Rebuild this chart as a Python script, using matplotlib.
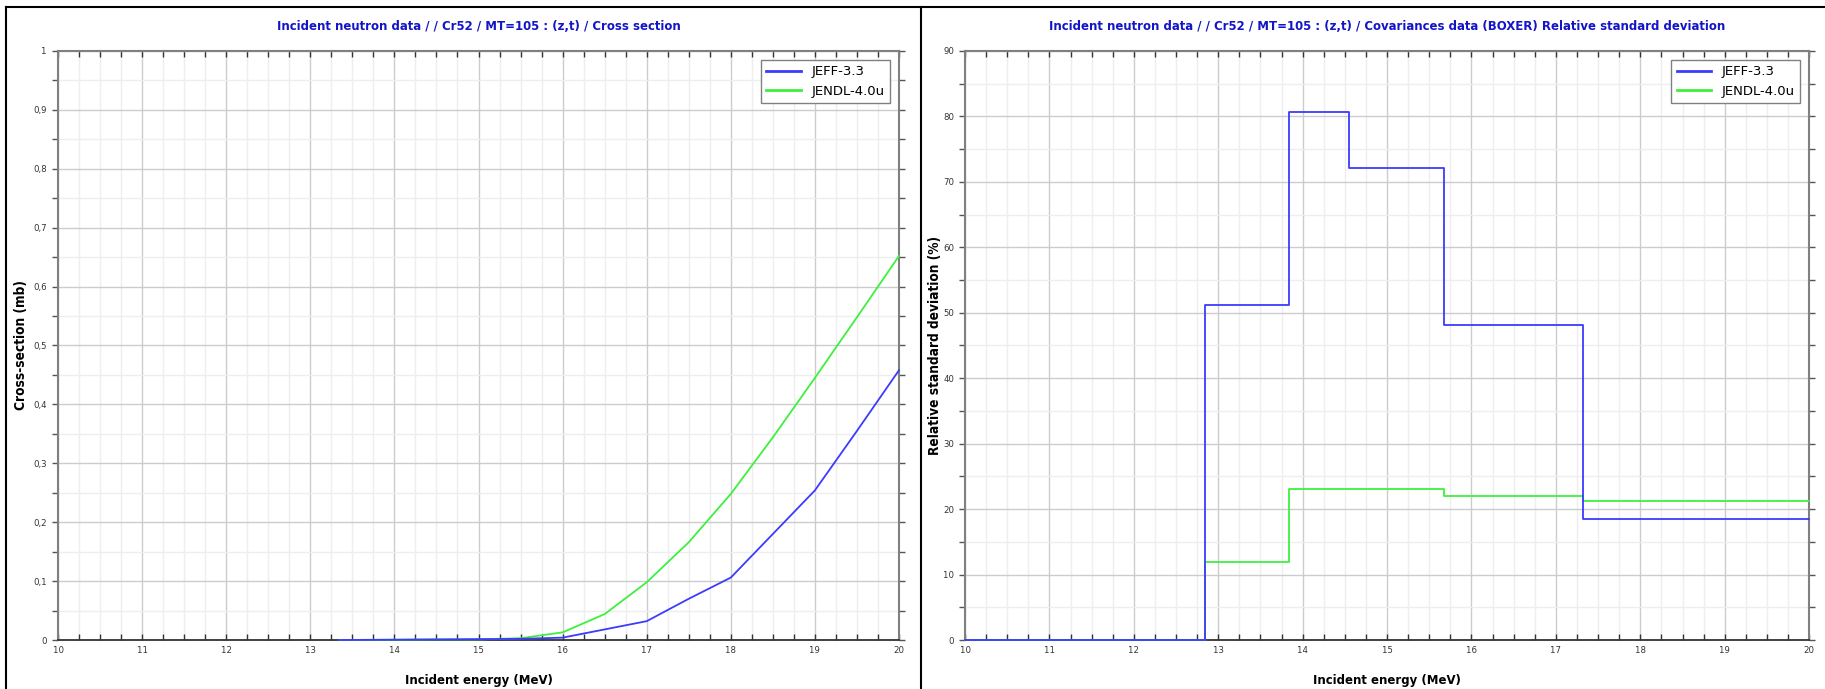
import matplotlib
matplotlib.use("Agg")
import matplotlib.pyplot as plt
from matplotlib import font_manager
from matplotlib.lines import Line2D
from matplotlib.ticker import MultipleLocator, FuncFormatter

# cross section (mb) vs energy (MeV)
e_xs = [13.34, 14.0, 14.5, 15.0, 15.5, 16.0, 16.5, 17.0, 17.5, 18.0, 18.5, 19.0, 19.5, 20.0]
xs_jeff = [0.0, 0.0005, 0.001, 0.0015, 0.002, 0.004, 0.018, 0.032, 0.070, 0.106, 0.180, 0.254, 0.355, 0.458]
xs_jendl = [0.0, 0.0005, 0.001, 0.001, 0.003, 0.013, 0.044, 0.098, 0.166, 0.248, 0.344, 0.445, 0.548, 0.652]

# relative standard deviation (%) - step functions
e_jeff = [10.0, 12.84, 13.84, 14.55, 15.68, 17.32, 20.0]
rsd_jeff = [0.0, 51.2, 80.7, 72.1, 48.2, 18.5, 18.5]
e_jendl = [10.0, 12.84, 13.84, 15.68, 17.32, 20.0]
rsd_jendl = [0.0, 11.9, 23.0, 22.0, 21.3, 21.3]

labels = ["JEFF-3.3", "JENDL-4.0u"]
titles = ["Incident neutron data / / Cr52 / MT=105 : (z,t) / Cross section",
          "Incident neutron data / / Cr52 / MT=105 : (z,t) / Covariances data (BOXER) Relative standard deviation"]
ylabels = ["Cross-section (mb)", "Relative standard deviation (%)"]

blue = "#3b3bff"
green = "#3ef03e"

# pick a narrow font if one is there
fonts = font_manager.fontManager.ttflist
names = {f.name for f in fonts}
stretch = "normal"
if "Liberation Sans Narrow" in names:
    narrow = "Liberation Sans Narrow"
    scale = 1.0
elif any(f.name == "DejaVu Sans" and f.stretch == "condensed" for f in fonts):
    narrow = "DejaVu Sans"
    stretch = "condensed"
    scale = 0.85
else:
    narrow = "Liberation Sans"
    scale = 0.78


def nfont(size, weight="normal"):
    return dict(family=narrow, stretch=stretch, size=size * scale, weight=weight)


fig = plt.figure(figsize=(18.25, 6.89), dpi=100)
ax1 = fig.add_axes([0.0318, 0.0711, 0.4608, 0.8549])
ax2 = fig.add_axes([0.5288, 0.0711, 0.4625, 0.8549])

ax1.plot(e_xs, xs_jeff, color=blue, lw=1.3, label=labels[0], zorder=4, clip_on=False)
ax1.plot(e_xs, xs_jendl, color=green, lw=1.3, label=labels[1], zorder=3, clip_on=False)
ax2.step(e_jeff, rsd_jeff, where="post", color=blue, lw=1.3, label=labels[0], zorder=4, clip_on=False)
ax2.step(e_jendl, rsd_jendl, where="post", color=green, lw=1.3, label=labels[1], zorder=3, clip_on=False)

ax1.set_ylim(0, 1)
ax1.yaxis.set_major_locator(MultipleLocator(0.1))
ax1.yaxis.set_minor_locator(MultipleLocator(0.05))
ax1.yaxis.set_major_formatter(FuncFormatter(lambda v, p: ("%g" % round(v, 2)).replace(".", ",")))
ax2.set_ylim(0, 90)
ax2.yaxis.set_major_locator(MultipleLocator(10))
ax2.yaxis.set_minor_locator(MultipleLocator(5))

ylab_x = [-0.044, -0.0355]
for i, ax in enumerate([ax1, ax2]):
    ax.set_xlim(10, 20)
    ax.xaxis.set_major_locator(MultipleLocator(1))
    ax.xaxis.set_minor_locator(MultipleLocator(0.25))
    ax.grid(which="major", color="#cccccc", lw=1.0)
    ax.grid(which="minor", color="#eeeeee", lw=1.0)
    ax.set_axisbelow(True)
    for s in ["left", "right", "top"]:
        ax.spines[s].set_color("#808080")
        ax.spines[s].set_linewidth(1.5)
    ax.spines["bottom"].set_color("#333333")
    ax.spines["bottom"].set_linewidth(1.3)
    ax.tick_params(axis="x", which="both", direction="in", top=True, length=4, width=1, color="#333333")
    ax.tick_params(axis="y", which="both", direction="out", right=True, length=4, width=1, color="#555555")
    ax.tick_params(which="both", labelcolor="#333333", pad=4)
    for t in ax.get_xticklabels() + ax.get_yticklabels():
        t.set_fontproperties(font_manager.FontProperties(**nfont(8)))
    ax.set_title(titles[i], color="#1414c8", fontdict=nfont(11, "bold"), pad=15)
    ax.set_xlabel("Incident energy (MeV)", fontdict=nfont(11, "bold"), labelpad=14)
    ax.set_ylabel(ylabels[i], fontdict=nfont(11.5, "bold"), va="center")
    ax.yaxis.set_label_coords(ylab_x[i], 0.5)
    leg = ax.legend(loc="upper right", fontsize=9.5, fancybox=False, framealpha=1,
                    edgecolor="#808080", borderaxespad=0.7, handlelength=2.6)
    leg.get_frame().set_linewidth(1.0)
    for ln in leg.get_lines():
        ln.set_linewidth(2.0)

# outer frame lines
fig.add_artist(Line2D([0.0033, 1.0], [0.9898, 0.9898], color="black", lw=1.5, transform=fig.transFigure))
fig.add_artist(Line2D([0.0033, 0.0033], [0.0, 0.9898], color="black", lw=1.5, transform=fig.transFigure))
fig.add_artist(Line2D([0.5047, 0.5047], [0.0, 0.9898], color="black", lw=1.5, transform=fig.transFigure))

fig.savefig("out.png", dpi=100)
